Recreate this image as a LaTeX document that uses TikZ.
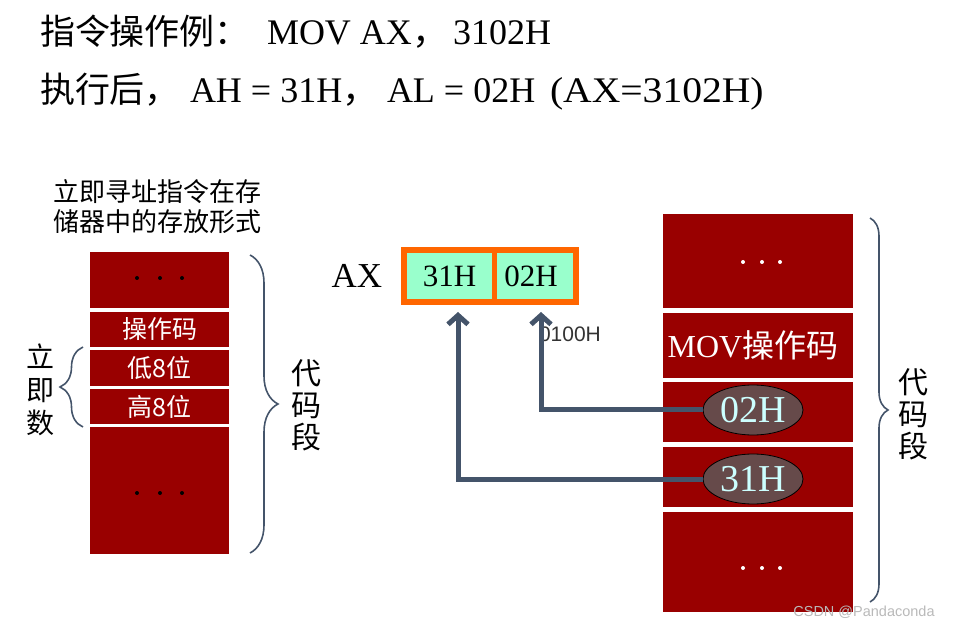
\documentclass[tikz,border=0pt]{standalone}
\usepackage{fontspec}
\usepackage{graphicx}
\setmainfont{Liberation Serif}
\newfontfamily\cjk{Noto Sans CJK SC}
\newfontfamily\lsans{Liberation Sans}
\usetikzlibrary{arrows.meta,decorations.pathreplacing,shapes.geometric}
\definecolor{memred}{HTML}{990000}
\definecolor{slate}{HTML}{44546A}
\definecolor{regorange}{HTML}{FF6600}
\definecolor{mint}{HTML}{99FFCC}
\definecolor{ellfill}{HTML}{664A4A}
\definecolor{celltext}{HTML}{CCFFFF}
\newcommand{\fsz}[1]{\fontsize{#1}{#1}\selectfont}
\begin{document}
\begin{tikzpicture}[x=1pt,y=-1pt,
  txt/.style={inner sep=0pt, outer sep=0pt},
  memblk/.style={rectangle, fill=memred, draw=none, inner sep=0pt, outer sep=0pt, text=white},
  brc/.style={draw=slate, line width=1.6pt, decorate, decoration={brace, amplitude=#1}},
  conn/.style={draw=slate, line width=5pt, line join=miter,
     -{Straight Barb[length=9pt,width=20pt,line width=5pt]}},
  dotb/.style={fill=black},
  dotw/.style={fill=white},
  ell/.style={ellipse, minimum width=100pt, minimum height=50pt, inner sep=0pt,
     fill=ellfill, draw=black, line width=0.8pt, text=celltext, font=\fsz{38}},
  cell/.style={rectangle, fill=mint, draw=none, inner sep=0pt, minimum height=46pt, font=\fsz{31}},
]
\useasboundingbox (0,0) rectangle (954,628);

% ---- title lines ----
\node[txt, anchor=base west] (t1a) at (40,45) {\cjk\fsz{35}指令操作例：};
\node[txt, anchor=base west] (t1b) at (267,45) {\fsz{36}MOV AX{\cjk ，}};
\node[txt, anchor=base west] (t1c) at (453,45) {\fsz{36}3102H};
\node[txt, anchor=base west] (t2a) at (40,103) {\cjk\fsz{35}执行后，};
\node[txt, anchor=base west] (t2b) at (190,103) {\fsz{36}AH = 31H{\cjk ，}};
\node[txt, anchor=base west] (t2c) at (387,103) {\fsz{36}AL = 02H};
\node[txt, anchor=base west] (t2d) at (550,103) {\fsz{36}\scalebox{1.1}[1]{(AX=3102H)}};

% ---- left memory column ----
\node[txt, align=center, font=\cjk\fontsize{26}{30}\selectfont] (ltitle) at (157,207) {立即寻址指令在存\\储器中的存放形式};
\node[memblk, minimum width=139pt, minimum height=56pt] (L1) at (159.5,280) {};
\node[memblk, minimum width=139pt, minimum height=35pt, font=\cjk\fsz{25}] (L2) at (159.5,329.5) {操作码};
\node[memblk, minimum width=139pt, minimum height=36pt, font=\cjk\fsz{25}] (L3) at (159.5,368) {低8位};
\node[memblk, minimum width=139pt, minimum height=35pt, font=\cjk\fsz{25}] (L4) at (159.5,406.5) {高8位};
\node[memblk, minimum width=139pt, minimum height=127pt] (L5) at (159.5,490.5) {};
\foreach \xx in {137,160,182}{
  \fill[dotb] (\xx,278) circle (2pt);
  \fill[dotb] (\xx,493) circle (2pt);
}
\draw[brc=23] (83,427) -- (83,347);
\node[txt, align=center, font=\cjk\fontsize{28}{33}\selectfont] (limm) at (41,390) {立\\即\\数};
\draw[brc=28] (250,255) -- (250,553);
\node[txt, align=center, font=\cjk\fontsize{30}{32}\selectfont] (lcode) at (306,405) {代\\码\\段};

% ---- AX register ----
\node[txt, font=\fsz{35}] (axlabel) at (357,276) {AX};
\node[rectangle, fill=regorange, draw=none, inner sep=0pt, minimum width=178pt, minimum height=58pt] (axreg) at (490,276) {};
\node[cell, minimum width=85pt] (c31) at (449.5,276) {31H};
\node[cell, minimum width=76pt] (c02) at (535,276) {};
\node[txt, font=\fsz{31}] (c02t) at (531,276) {02H};
\node[txt, anchor=west, font=\lsans\fsz{21}, text=black!80] (addr) at (539,334) {0100H};

% ---- right memory column ----
\node[memblk, minimum width=190pt, minimum height=94pt] (R1) at (758,261) {};
\node[memblk, minimum width=190pt, minimum height=65pt] (R2) at (758,345.5) {};
\node[txt, text=white] (R2t) at (753,345.5) {\fsz{32}MOV{\cjk 操作码}};
\node[memblk, minimum width=190pt, minimum height=60pt] (R3) at (758,412) {};
\node[memblk, minimum width=190pt, minimum height=60pt] (R4) at (758,477) {};
\node[memblk, minimum width=190pt, minimum height=100pt] (R5) at (758,562) {};
\foreach \xx in {743,762,780}{
  \fill[dotw] (\xx,262) circle (2pt);
  \fill[dotw] (\xx,568) circle (2pt);
}
\node[ell] (e02) at (753,410) {02H};
\node[ell] (e31) at (753,479) {31H};
\draw[brc=18] (870,218) -- (870,602);
\node[txt, align=center, font=\cjk\fontsize{30}{32}\selectfont] (rcode) at (913,414) {代\\码\\段};

% ---- connectors ----
\coordinate (t31) at (458,312);
\coordinate (t02) at (541,312);
\draw[conn] (e31.west) -| (t31);
\draw[conn] (e02.west) -| (t02);

% ---- watermark ----
\node[txt, font=\lsans\fsz{14.5}, text=gray!55] (wm) at (864,612) {CSDN @Pandaconda};
\end{tikzpicture}
\end{document}
